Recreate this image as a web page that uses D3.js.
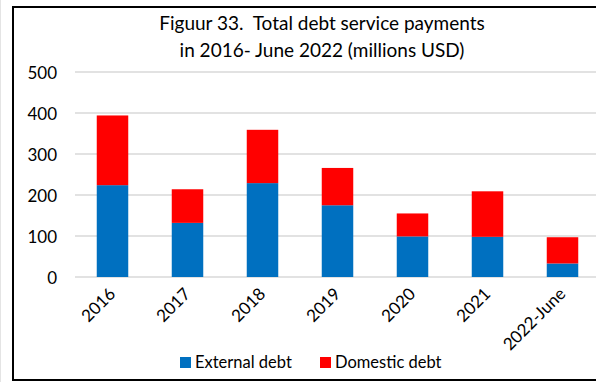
<!DOCTYPE html>
<html><head><meta charset="utf-8">
<script src="https://cdn.jsdelivr.net/npm/d3@7"></script>
<style>html,body{margin:0;padding:0;background:#fff;}svg{display:block;font-family:Lato,"Open Sans",sans-serif;}</style>
</head><body><svg id="c" width="596" height="382"></svg>
<script>
const categories = ["2016","2017","2018","2019","2020","2021","2022-June"];
const externalDebt = [224, 132, 229, 175, 99, 98, 33];
const domesticDebt = [170, 82, 130, 91, 56, 111, 64];
const yTicks = [0, 100, 200, 300, 400, 500];
const seriesNames = ["External debt", "Domestic debt"];
const colors = ["#0070C0", "#FF0000"];
const titleLines = ["Figuur 33.  Total debt service payments", "in 2016- June 2022 (millions USD)"];

const svg = d3.select("#c");
// frame
svg.append("line").attr("x1",0.5).attr("x2",0.5).attr("y1",0).attr("y2",382).attr("stroke","#e4e4e4");
svg.append("rect").attr("x",13).attr("y",7).attr("width",620).attr("height",373)
  .attr("fill","none").attr("stroke","#000").attr("stroke-width",2);

const x = d3.scaleBand().domain(categories).range([75, 600]).paddingInner(0.58).paddingOuter(0.29);
const y = d3.scaleLinear().domain([0, 500]).range([277, 72]);

// gridlines
svg.append("g").selectAll("line").data(yTicks).join("line")
  .attr("x1", 75).attr("x2", 600)
  .attr("y1", d => y(d)).attr("y2", d => y(d))
  .attr("stroke", "#d9d9d9").attr("stroke-width", 1.5);

// y axis labels
const yAxis = d3.axisLeft(y).tickValues(yTicks).tickSize(0).tickPadding(0);
const gy = svg.append("g").attr("transform", "translate(57,0)").call(yAxis);
gy.select(".domain").remove();
gy.selectAll("text").attr("font-family","Lato").attr("font-size", 17).attr("fill","#000").attr("dy","0.36em");

// stacked bars
const data = categories.map((c,i) => ({cat:c, ext: externalDebt[i], dom: domesticDebt[i]}));
const stack = d3.stack().keys(["ext","dom"])(data);
svg.append("g").selectAll("g").data(stack).join("g")
  .attr("fill", (d,i) => colors[i])
  .selectAll("rect").data(d => d).join("rect")
  .attr("x", d => x(d.data.cat))
  .attr("width", x.bandwidth())
  .attr("y", d => y(d[1]))
  .attr("height", d => y(d[0]) - y(d[1]));

// x axis labels
const xAxis = d3.axisBottom(x).tickSize(0).tickPadding(0);
const gx = svg.append("g").attr("transform", "translate(0,277)").call(xAxis);
gx.select(".domain").remove();
gx.selectAll("text")
  .attr("font-family","Lato").attr("font-size", 17).attr("fill","#000")
  .attr("text-anchor","end").attr("dy", null).attr("y", 0)
  .attr("transform", "translate(4,18) rotate(-45)");

// title
svg.append("g").selectAll("text").data(titleLines).join("text")
  .attr("x", 322).attr("y", (d,i) => 30 + i*27)
  .attr("text-anchor","middle").attr("font-family","Lato").attr("font-size", 19)
  .style("white-space","pre")
  .attr("fill","#000").text(d => d);

// legend
const legendX = [180, 320];
const lg = svg.append("g").selectAll("g").data(seriesNames).join("g")
  .attr("transform", (d,i) => `translate(${legendX[i]},357)`);
lg.append("rect").attr("width", 11).attr("height", 11).attr("fill", (d,i) => colors[i]);
lg.append("text").attr("x", 15).attr("y", 10.5).attr("font-family","Lato").attr("font-size", 16.5)
  .attr("fill","#000").text(d => d);
</script></body></html>
